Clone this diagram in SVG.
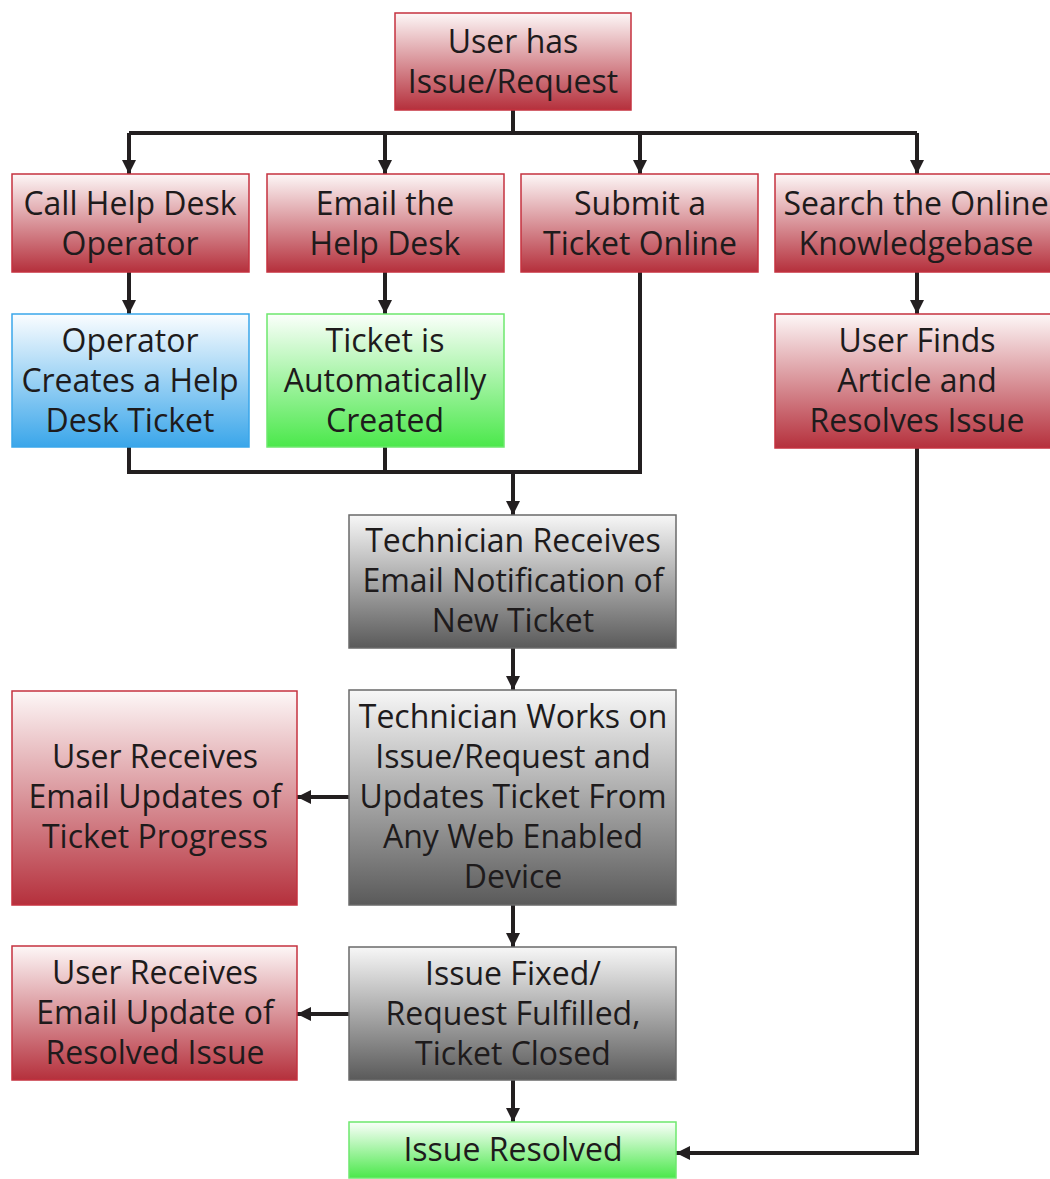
<svg xmlns="http://www.w3.org/2000/svg" width="1050" height="1179" viewBox="0 0 1050 1179">
  <defs>
    <linearGradient id="gRed" x1="0" y1="0" x2="0" y2="1">
      <stop offset="0" stop-color="#fdf7f7"/>
      <stop offset="1" stop-color="#b5303c"/>
    </linearGradient>
    <linearGradient id="gBlue" x1="0" y1="0" x2="0" y2="1">
      <stop offset="0" stop-color="#fbfdff"/>
      <stop offset="1" stop-color="#3aa6ea"/>
    </linearGradient>
    <linearGradient id="gGreen" x1="0" y1="0" x2="0" y2="1">
      <stop offset="0" stop-color="#fbfffb"/>
      <stop offset="1" stop-color="#4be84b"/>
    </linearGradient>
    <linearGradient id="gGray" x1="0" y1="0" x2="0" y2="1">
      <stop offset="0" stop-color="#f7f7f7"/>
      <stop offset="1" stop-color="#5a5a5a"/>
    </linearGradient>
    <marker id="arrow" viewBox="0 0 10 10" refX="10" refY="5" markerWidth="3.5" markerHeight="3.5" markerUnits="strokeWidth" orient="auto">
      <path d="M0,0 L10,5 L0,10 z" fill="#231f20"/>
    </marker>
    <style>
      .red { fill: url(#gRed); stroke: #c5323f; stroke-width: 1.5; }
      .blue { fill: url(#gBlue); stroke: #3aa6ea; stroke-width: 1.5; }
      .green { fill: url(#gGreen); stroke: #6ee86e; stroke-width: 1.5; }
      .gray { fill: url(#gGray); stroke: #6a6a6a; stroke-width: 1.5; }
      text { font-family: "Open Sans", "DejaVu Sans", sans-serif; font-size: 32px; fill: #1e1b1c; text-anchor: middle; dominant-baseline: central; }
      .wire { fill: none; stroke: #231f20; stroke-width: 4; stroke-linejoin: miter; stroke-linecap: butt; }
    </style>
  </defs>
  <rect width="1050" height="1179" fill="#ffffff"/>

  <!-- connectors -->
  <g id="connectors">
    <polyline class="wire" points="513,110 513,133"/>
    <polyline class="wire" points="129,133 917,133"/>
    <polyline class="wire" points="129,133 129,174" marker-end="url(#arrow)"/>
    <polyline class="wire" points="385,133 385,174" marker-end="url(#arrow)"/>
    <polyline class="wire" points="640,133 640,174" marker-end="url(#arrow)"/>
    <polyline class="wire" points="917,133 917,174" marker-end="url(#arrow)"/>
    <polyline class="wire" points="129,272 129,314" marker-end="url(#arrow)"/>
    <polyline class="wire" points="385,272 385,314" marker-end="url(#arrow)"/>
    <polyline class="wire" points="917,272 917,314" marker-end="url(#arrow)"/>
    <polyline class="wire" points="129,447 129,472 640,472 640,272"/>
    <polyline class="wire" points="385,447 385,472"/>
    <polyline class="wire" points="513,472 513,515" marker-end="url(#arrow)"/>
    <polyline class="wire" points="513,648 513,690" marker-end="url(#arrow)"/>
    <polyline class="wire" points="349,797 297,797" marker-end="url(#arrow)"/>
    <polyline class="wire" points="513,905 513,947" marker-end="url(#arrow)"/>
    <polyline class="wire" points="349,1014 297,1014" marker-end="url(#arrow)"/>
    <polyline class="wire" points="513,1080 513,1122" marker-end="url(#arrow)"/>
    <polyline class="wire" points="917,448 917,1153 676,1153" marker-end="url(#arrow)"/>
  </g>

  <g id="user-has-issue">
    <rect class="red" x="395" y="13" width="236" height="97"/>
    <text x="513" y="40">User has</text>
    <text x="513" y="80">Issue/Request</text>
  </g>

  <g id="call-help-desk">
    <rect class="red" x="12" y="174" width="237" height="98"/>
    <text x="130" y="202">Call Help Desk</text>
    <text x="130" y="242">Operator</text>
  </g>

  <g id="email-help-desk">
    <rect class="red" x="267" y="174" width="237" height="98"/>
    <text x="385" y="202">Email the</text>
    <text x="385" y="242">Help Desk</text>
  </g>

  <g id="submit-ticket">
    <rect class="red" x="521" y="174" width="237" height="98"/>
    <text x="640" y="202">Submit a</text>
    <text x="640" y="242">Ticket Online</text>
  </g>

  <g id="search-knowledgebase">
    <rect class="red" x="775" y="174" width="280" height="98"/>
    <text x="916" y="202">Search the Online</text>
    <text x="916" y="242">Knowledgebase</text>
  </g>

  <g id="operator-creates-ticket">
    <rect class="blue" x="12" y="314" width="237" height="133"/>
    <text x="130" y="339">Operator</text>
    <text x="130" y="379">Creates a Help</text>
    <text x="130" y="419">Desk Ticket</text>
  </g>

  <g id="ticket-auto-created">
    <rect class="green" x="267" y="314" width="237" height="133"/>
    <text x="385" y="339">Ticket is</text>
    <text x="385" y="379">Automatically</text>
    <text x="385" y="419">Created</text>
  </g>

  <g id="user-finds-article">
    <rect class="red" x="775" y="314" width="280" height="134"/>
    <text x="917" y="339">User Finds</text>
    <text x="917" y="379">Article and</text>
    <text x="917" y="419">Resolves Issue</text>
  </g>

  <g id="technician-notified">
    <rect class="gray" x="349" y="515" width="327" height="133"/>
    <text x="513" y="539">Technician Receives</text>
    <text x="513" y="579">Email Notification of</text>
    <text x="513" y="619">New Ticket</text>
  </g>

  <g id="technician-works">
    <rect class="gray" x="349" y="690" width="327" height="215"/>
    <text x="513" y="715">Technician Works on</text>
    <text x="513" y="755">Issue/Request and</text>
    <text x="513" y="795">Updates Ticket From</text>
    <text x="513" y="835">Any Web Enabled</text>
    <text x="513" y="875">Device</text>
  </g>

  <g id="user-progress-updates">
    <rect class="red" x="12" y="691" width="285" height="214"/>
    <text x="155" y="755">User Receives</text>
    <text x="155" y="795">Email Updates of</text>
    <text x="155" y="835">Ticket Progress</text>
  </g>

  <g id="issue-fixed">
    <rect class="gray" x="349" y="947" width="327" height="133"/>
    <text x="513" y="972">Issue Fixed/</text>
    <text x="513" y="1012">Request Fulfilled,</text>
    <text x="513" y="1052">Ticket Closed</text>
  </g>

  <g id="user-resolved-update">
    <rect class="red" x="12" y="946" width="285" height="134"/>
    <text x="155" y="971">User Receives</text>
    <text x="155" y="1011">Email Update of</text>
    <text x="155" y="1051">Resolved Issue</text>
  </g>

  <g id="issue-resolved">
    <rect class="green" x="349" y="1122" width="327" height="56"/>
    <text x="513" y="1148">Issue Resolved</text>
  </g>
</svg>
